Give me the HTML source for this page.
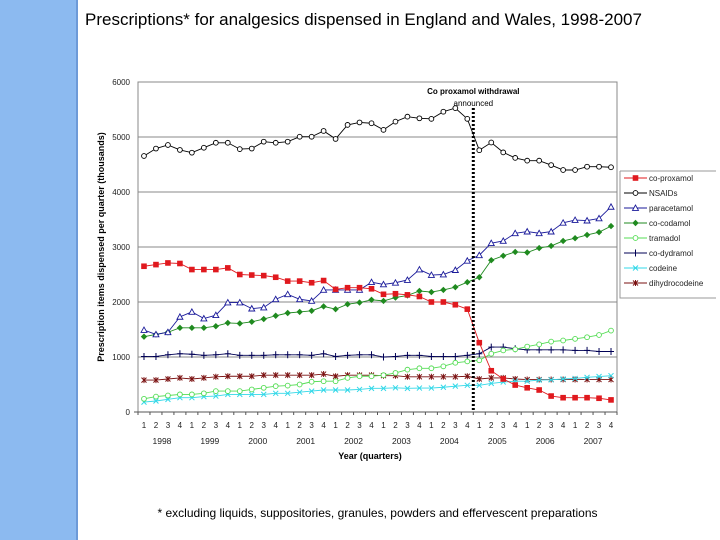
<!DOCTYPE html>
<html><head><meta charset="utf-8">
<style>
body{margin:0;width:720px;height:540px;background:#fff;overflow:hidden;font-family:"Liberation Sans",sans-serif;position:relative}
#stripe{position:absolute;left:0;top:0;width:76px;height:540px;background:#8cbaf0;border-right:2px solid #6d9ad8}
#title{position:absolute;left:85px;top:10px;font-size:17px;color:#000;white-space:nowrap}
#foot{position:absolute;left:0;width:755px;top:506px;text-align:center;font-size:12px;color:#000}
svg{position:absolute;left:0;top:0}
</style></head><body>
<div id="stripe"></div>
<div id="title">Prescriptions* for analgesics dispensed in England and Wales, 1998-2007</div>
<div id="foot">* excluding liquids, suppositories, granules, powders and effervescent preparations</div>
<svg id="chart" width="720" height="540"></svg>
<script>
const years=["1998","1999","2000","2001","2002","2003","2004","2005","2006","2007"];
const quarters=["1","2","3","4"];
const yTicks=[0,1000,2000,3000,4000,5000,6000];
const coProxamol=[2650,2680,2710,2700,2590,2590,2590,2620,2500,2490,2480,2450,2380,2380,2350,2390,2230,2260,2260,2240,2140,2150,2130,2100,2000,2000,1950,1870,1260,750,600,490,440,400,290,260,260,260,250,220];
const nsaids=[4655,4790,4855,4765,4715,4805,4895,4895,4780,4790,4915,4895,4915,5005,5005,5110,4965,5220,5265,5250,5130,5280,5370,5340,5330,5460,5525,5330,4760,4900,4720,4620,4570,4570,4490,4400,4400,4460,4460,4450];
const paracetamol=[1490,1410,1450,1730,1820,1700,1760,1990,1990,1880,1900,2050,2140,2050,2020,2220,2220,2220,2220,2360,2320,2350,2400,2590,2490,2500,2580,2750,2850,3070,3110,3250,3280,3250,3280,3440,3490,3480,3520,3730];
const coCodamol=[1370,1410,1450,1530,1530,1530,1560,1620,1610,1640,1690,1750,1800,1820,1840,1920,1870,1960,1990,2040,2020,2080,2120,2200,2180,2220,2270,2360,2450,2760,2840,2910,2900,2980,3020,3110,3160,3220,3270,3380];
const tramadol=[240,280,300,320,320,340,380,380,380,410,440,470,480,500,550,560,560,620,650,650,670,710,770,795,795,830,895,920,940,1060,1120,1140,1190,1230,1280,1300,1330,1360,1400,1480];
const coDydramol=[1010,1010,1040,1060,1050,1030,1040,1060,1030,1030,1030,1040,1040,1040,1030,1060,1010,1030,1040,1040,1000,1010,1030,1030,1010,1010,1010,1030,1060,1180,1180,1150,1130,1130,1130,1130,1120,1120,1100,1100];
const codeine=[180,200,230,260,260,280,290,320,320,320,320,340,340,360,380,400,400,400,410,430,430,440,430,435,435,450,470,485,485,520,545,560,560,580,585,600,610,630,645,660];
const dihydrocodeine=[580,580,600,620,600,620,640,650,650,650,670,670,670,670,670,690,650,670,670,670,660,660,640,640,640,640,640,650,600,620,620,600,590,590,590,590,590,590,590,590];
const seriesNames=["co-proxamol","NSAIDs","paracetamol","co-codamol","tramadol","co-dydramol","codeine","dihydrocodeine"];
const seriesData=[coProxamol,nsaids,paracetamol,coCodamol,tramadol,coDydramol,codeine,dihydrocodeine];
const seriesColors=["#e0191e","#000000","#1a1a9a","#1f8a1f","#55dd55","#000055","#33d8e8","#7a1010"];
const seriesMarkers=["square","circle","triangle","diamond","circle","plus","x","star"];
const withdrawalIndex=27.5;

const NS="http://www.w3.org/2000/svg";
const svg=document.getElementById("chart");
const L=138,R=617,T=82,B=412,N=40,yMax=6000;
const step=(R-L)/N;
const xS=i=>L+step*(i+0.5);
const yS=v=>B-(v/yMax)*(B-T);
function mk(tag,attrs,parent){const e=document.createElementNS(NS,tag);for(const k in attrs)e.setAttribute(k,attrs[k]);(parent||svg).appendChild(e);return e;}

yTicks.forEach(v=>{
  if(v>0){const g=mk("line",{x1:L,x2:R,y1:yS(v),y2:yS(v),stroke:"#888","stroke-width":1});
  
  }
  const t=mk("text",{x:L-8,y:yS(v)+3,"font-size":8,"text-anchor":"end",fill:"#222"});
  t.textContent=v;
  
  
});
const frame=mk("rect",{x:L,y:T,width:R-L,height:B-T,fill:"none",stroke:"#888","stroke-width":1});


const xa=mk("line",{x1:L-4,x2:R,y1:B,y2:B,stroke:"#555","stroke-width":1});


for(let i=0;i<=N;i++){const tk=mk("line",{x1:L+step*i,x2:L+step*i,y1:B,y2:B+3,stroke:"#555"});

}
years.forEach((yr,yi)=>{
  quarters.forEach((q,qi)=>{
    const t=mk("text",{x:xS(yi*4+qi),y:428,"font-size":8,"text-anchor":"middle",fill:"#222"});
    t.textContent=q;
    
    
  });
  const t=mk("text",{x:(xS(yi*4)+xS(yi*4+3))/2,y:444,"font-size":8.5,"text-anchor":"middle",fill:"#222"});
  t.textContent=yr;
  
  
});
const xt=mk("text",{x:370,y:459,"font-size":9,"font-weight":"bold","text-anchor":"middle"});
xt.textContent="Year (quarters)";


const yt=mk("text",{x:0,y:0,"font-size":9,"font-weight":"bold","text-anchor":"middle",transform:"translate(104,247) rotate(-90)"});
yt.textContent="Prescription items dispensed per quarter (thousands)";



function marker(type,x,y,c,p){
  let e;
  if(type==="square")e=mk("rect",{x:x-2.8,y:y-2.8,width:5.6,height:5.6,fill:c},p);
  else if(type==="circle")e=mk("circle",{cx:x,cy:y,r:2.4,fill:"#fff",stroke:c,"stroke-width":0.9},p);
  else if(type==="triangle")e=mk("polygon",{points:`${x},${y-3} ${x-3},${y+2.4} ${x+3},${y+2.4}`,fill:"#fff",stroke:c,"stroke-width":0.9},p);
  else if(type==="diamond")e=mk("polygon",{points:`${x},${y-3.2} ${x+3.2},${y} ${x},${y+3.2} ${x-3.2},${y}`,fill:c},p);
  else if(type==="plus")e=mk("path",{d:`M${x-3},${y}H${x+3}M${x},${y-3.5}V${y+3.5}`,stroke:c,"stroke-width":1},p);
  else if(type==="x")e=mk("path",{d:`M${x-2.5},${y-2.5}L${x+2.5},${y+2.5}M${x-2.5},${y+2.5}L${x+2.5},${y-2.5}`,stroke:c,"stroke-width":1},p);
  else e=mk("path",{d:`M${x-2.5},${y-2.5}L${x+2.5},${y+2.5}M${x-2.5},${y+2.5}L${x+2.5},${y-2.5}M${x},${y-3}V${y+3}`,stroke:c,"stroke-width":1},p);
  return e;
}
for(let s=seriesData.length-1;s>=0;s--){
  const g=mk("g",{});
  
  
  const d=seriesData[s];
  const pl=mk("polyline",{points:d.map((v,i)=>xS(i)+","+yS(v)).join(" "),fill:"none",stroke:seriesColors[s],"stroke-width":0.9},g);
  
  
  d.forEach((v,i)=>{const m=marker(seriesMarkers[s],xS(i),yS(v),seriesColors[s],g);
    
    });
}
const wx=xS(withdrawalIndex);
const wl=mk("line",{x1:wx,x2:wx,y1:108,y2:B,stroke:"#000","stroke-width":3,"stroke-dasharray":"2,2"});


["Co proxamol withdrawal","announced"].forEach((s,i)=>{
  const t=mk("text",{x:wx,y:94+i*12,"font-size":8,"font-weight":i?"normal":"bold","text-anchor":"middle"});
  t.textContent=s;
  
  
});
const lg=mk("g",{});


mk("path",{d:"M620,171H716M620,171V298H716",fill:"none",stroke:"#999","stroke-width":1},lg);
seriesNames.forEach((n,i)=>{
  const y=178+i*15;
  const e=mk("g",{},lg);
  
  
  mk("line",{x1:624,x2:647,y1:y,y2:y,stroke:seriesColors[i],"stroke-width":1},e);
  marker(seriesMarkers[i],635.5,y,seriesColors[i],e);
  const t=mk("text",{x:649,y:y+3,"font-size":8,fill:"#222"},e);
  t.textContent=n;
});
</script>
</body></html>
